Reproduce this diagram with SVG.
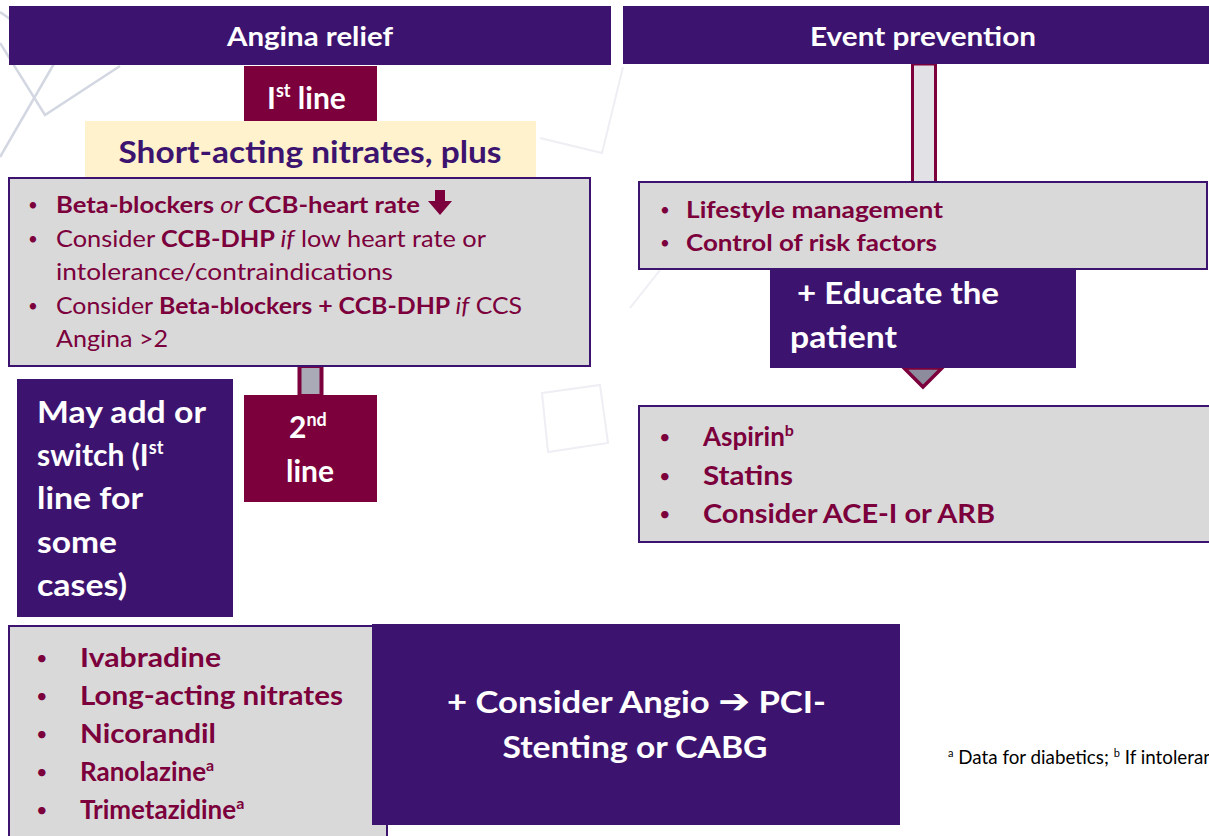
<svg xmlns="http://www.w3.org/2000/svg" width="1209" height="836" viewBox="0 0 1209 836">
<style>
text{font-family:Lato,"Open Sans","Liberation Sans",sans-serif}
.hdr{fill:#3c1470}
.pur{fill:#3c1470}
.mar{fill:#7b003c}
.box{fill:#d9d9d9;stroke:#3c1470;stroke-width:2}
.w{fill:#ffffff;font-weight:bold}
.m{fill:#7b003c}
.b{font-weight:bold}
.bul{font-size:17px;font-weight:normal}
.bul2{font-size:20px;font-weight:normal}
.bg{fill:none;stroke:#d3d7e2;stroke-width:2.5}
.bg2{fill:none;stroke:#eeeef4;stroke-width:2}
</style>
<rect width="1209" height="836" fill="#ffffff"/>
<g id="background">
<polyline class="bg" points="0,43 45,115 120,66"/>
<line class="bg" x1="55" y1="62" x2="0" y2="157"/>
<line class="bg" x1="0" y1="12" x2="10" y2="19"/>
<polyline class="bg2" points="623,67 602,153 540,138"/>
<polygon class="bg2" points="542,393 600,385 608,443 548,452"/>
<line class="bg2" x1="660" y1="270" x2="630" y2="308"/>
</g>
<g id="connectors">
<rect x="299.5" y="366" width="22" height="30" fill="#a9aab6" stroke="#7b003c" stroke-width="4"/>
<rect x="912.5" y="64" width="23" height="119" fill="#e2e2e6" stroke="#7b003c" stroke-width="3"/>
<polygon points="904,368 942,368 923,387" fill="#8c8c9c" stroke="#7b003c" stroke-width="3.5" stroke-linejoin="miter"/>
</g>
<g id="angina-relief">
<rect class="hdr" x="9" y="6" width="602" height="59"/>
<text class="w" x="310" y="46" font-size="26" text-anchor="middle" textLength="166" lengthAdjust="spacingAndGlyphs">Angina relief</text>
</g>
<g id="event-prevention">
<rect class="hdr" x="623" y="6" width="586" height="58"/>
<text class="w" x="923" y="46" font-size="26" text-anchor="middle" textLength="226" lengthAdjust="spacingAndGlyphs">Event prevention</text>
</g>
<g id="first-line">
<rect class="mar" x="244" y="66" width="133" height="55"/>
<text class="w" x="267" y="109" font-size="30">I<tspan font-size="18" dy="-12">st</tspan><tspan dy="12"> line</tspan></text>
</g>
<g id="short-acting">
<rect x="85" y="121" width="451" height="57" fill="#fff2cc"/>
<text x="310" y="163" font-size="31" font-weight="bold" fill="#3c1470" text-anchor="middle" textLength="383" lengthAdjust="spacingAndGlyphs">Short-acting nitrates, plus</text>
</g>
<g id="first-line-options">
<rect class="box" x="9" y="178" width="581" height="188"/>
<g class="m" font-size="23">
<text class="bul" x="28" y="211">•</text>
<text x="56" y="213" textLength="364" lengthAdjust="spacingAndGlyphs"><tspan class="b">Beta-blockers </tspan><tspan font-style="italic">or </tspan><tspan class="b">CCB-heart rate</tspan></text>
<polygon points="435,190 445,190 445,201 452,201 440,215 428,201 435,201" fill="#7b003c"/>
<text class="bul" x="28" y="245">•</text>
<text x="56" y="247" textLength="430" lengthAdjust="spacingAndGlyphs">Consider <tspan class="b">CCB-DHP </tspan><tspan font-style="italic">if</tspan> low heart rate or</text>
<text x="56" y="280" textLength="337" lengthAdjust="spacingAndGlyphs">intolerance/contraindications</text>
<text class="bul" x="28" y="312">•</text>
<text x="56" y="314" textLength="466" lengthAdjust="spacingAndGlyphs">Consider <tspan class="b">Beta-blockers + CCB-DHP </tspan><tspan font-style="italic">if</tspan> CCS</text>
<text x="56" y="347" textLength="112" lengthAdjust="spacingAndGlyphs">Angina &gt;2</text>
</g>
</g>
<g id="may-add">
<rect class="pur" x="17" y="379" width="216" height="238"/>
<g class="w" font-size="30">
<text x="37" y="423" textLength="169" lengthAdjust="spacingAndGlyphs">May add or</text>
<text x="37" y="466">switch (I<tspan font-size="18" dy="-12">st</tspan></text>
<text x="37" y="509" textLength="106" lengthAdjust="spacingAndGlyphs">line for</text>
<text x="37" y="553" textLength="80" lengthAdjust="spacingAndGlyphs">some</text>
<text x="37" y="596" textLength="90" lengthAdjust="spacingAndGlyphs">cases)</text>
</g>
</g>
<g id="second-line">
<rect class="mar" x="244" y="395" width="133" height="107"/>
<text class="w" x="289" y="438" font-size="30">2<tspan font-size="18" dy="-12">nd</tspan></text>
<text class="w" x="310" y="482" font-size="30" text-anchor="middle">line</text>
</g>
<g id="second-line-options">
<rect class="box" x="9" y="626" width="378" height="215"/>
<g class="m" font-size="26" font-weight="bold">
<text class="bul2" x="36" y="665">•</text>
<text x="80" y="667" textLength="141" lengthAdjust="spacingAndGlyphs">Ivabradine</text>
<text class="bul2" x="36" y="703">•</text>
<text x="80" y="705" textLength="263" lengthAdjust="spacingAndGlyphs">Long-acting nitrates</text>
<text class="bul2" x="36" y="741">•</text>
<text x="80" y="743" textLength="136" lengthAdjust="spacingAndGlyphs">Nicorandil</text>
<text class="bul2" x="36" y="779">•</text>
<text x="80" y="781">Ranolazine<tspan font-size="16" dy="-10">a</tspan></text>
<text class="bul2" x="36" y="817">•</text>
<text x="80" y="819">Trimetazidine<tspan font-size="16" dy="-10">a</tspan></text>
</g>
</g>
<g id="angio">
<rect class="pur" x="372" y="624" width="528" height="201"/>
<text class="w" x="447" y="713" font-size="31" textLength="379" lengthAdjust="spacingAndGlyphs">+ Consider Angio <tspan style="font-family:'DejaVu Sans',sans-serif" font-size="34">➔</tspan> PCI-</text>
<text class="w" x="635" y="758" font-size="31" text-anchor="middle" textLength="265" lengthAdjust="spacingAndGlyphs">Stenting or CABG</text>
</g>
<g id="lifestyle">
<rect class="box" x="639" y="182" width="568" height="87"/>
<g class="m" font-size="23" font-weight="bold">
<text class="bul" x="660" y="216">•</text>
<text x="686" y="218" textLength="257" lengthAdjust="spacingAndGlyphs">Lifestyle management</text>
<text class="bul" x="660" y="249">•</text>
<text x="686" y="251" textLength="251" lengthAdjust="spacingAndGlyphs">Control of risk factors</text>
</g>
</g>
<g id="educate">
<rect class="pur" x="770" y="269" width="306" height="99"/>
<text class="w" x="797" y="304" font-size="30" textLength="202" lengthAdjust="spacingAndGlyphs">+ Educate the</text>
<text class="w" x="790" y="348" font-size="30" textLength="107" lengthAdjust="spacingAndGlyphs">patient</text>
</g>
<g id="prevention-drugs">
<rect class="box" x="639" y="406" width="572" height="136"/>
<g class="m" font-size="26" font-weight="bold">
<text class="bul2" x="659" y="444">•</text>
<text x="703" y="446">Aspirin<tspan font-size="16" dy="-10">b</tspan></text>
<text class="bul2" x="659" y="483">•</text>
<text x="703" y="485" textLength="90" lengthAdjust="spacingAndGlyphs">Statins</text>
<text class="bul2" x="659" y="521">•</text>
<text x="703" y="523" textLength="292" lengthAdjust="spacingAndGlyphs">Consider ACE-I or ARB</text>
</g>
</g>
<g id="footnote">
<text x="948" y="764" font-size="18.8" fill="#000000"><tspan font-size="11" dy="-7">a</tspan><tspan dy="7"> Data for diabetics; </tspan><tspan font-size="11" dy="-7">b</tspan><tspan dy="7"> If intolerant</tspan></text>
</g>
</svg>
